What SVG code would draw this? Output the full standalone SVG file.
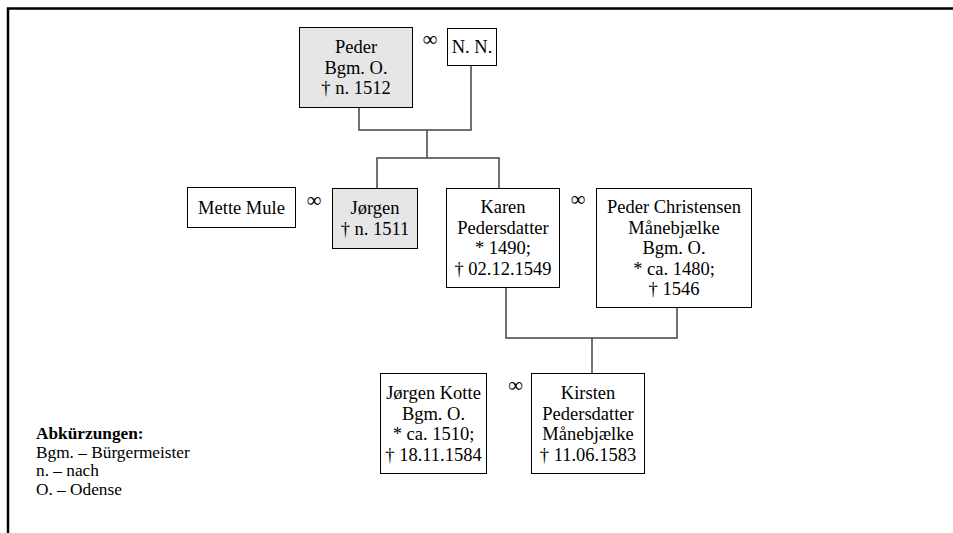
<svg xmlns="http://www.w3.org/2000/svg" width="953" height="533" viewBox="0 0 953 533">
<style>
text{font-family:"Liberation Serif","Times New Roman",serif;font-size:18.5px;fill:#000}
.c{text-anchor:middle}
.inf{font-size:21px;text-anchor:middle}
.box{fill:#fff;stroke:#000;stroke-width:1}
.g{fill:#e6e6e6}
.conn{fill:none;stroke:#444;stroke-width:1.5}
.leg{font-size:17.3px}
</style>
<rect width="953" height="533" fill="#fff"/>
<path d="M8,533 V8.5 H953" fill="none" stroke="#000" stroke-width="2.5"/>
<g id="connectors" class="conn">
<path d="M359,107 V130 H471 V65"/>
<path d="M427,130 V158"/>
<path d="M377,188 V158 H499 V188"/>
<path d="M506,287 V338 H677 V307"/>
<path d="M592,338 V373"/>
</g>
<g id="peder">
<rect class="box g" x="299.5" y="27.5" width="113" height="80"/>
<text class="c" x="356" y="53">Peder</text>
<text class="c" x="356" y="73.5">Bgm. O.</text>
<text class="c" x="356" y="94">† n. 1512</text>
</g>
<text class="inf" x="430" y="46">∞</text>
<g id="nn">
<rect class="box" x="447.5" y="28.5" width="49" height="37"/>
<text class="c" x="472" y="53">N. N.</text>
</g>
<g id="mette">
<rect class="box" x="187.5" y="187.5" width="108" height="40"/>
<text class="c" x="241.5" y="213.5">Mette Mule</text>
</g>
<text class="inf" x="314" y="207">∞</text>
<g id="jorgen">
<rect class="box g" x="332.5" y="188.5" width="85" height="60"/>
<text class="c" x="375" y="214">Jørgen</text>
<text class="c" x="375" y="235">† n. 1511</text>
</g>
<g id="karen">
<rect class="box" x="446.5" y="188.5" width="113" height="99"/>
<text class="c" x="503" y="213">Karen</text>
<text class="c" x="503" y="234">Pedersdatter</text>
<text class="c" x="503" y="254">* 1490;</text>
<text class="c" x="503" y="275">† 02.12.1549</text>
</g>
<text class="inf" x="578" y="206">∞</text>
<g id="pederchristensen">
<rect class="box" x="596.5" y="188.5" width="155" height="119"/>
<text class="c" x="674" y="213">Peder Christensen</text>
<text class="c" x="674" y="233.5">Månebjælke</text>
<text class="c" x="674" y="254">Bgm. O.</text>
<text class="c" x="674" y="274.5">* ca. 1480;</text>
<text class="c" x="674" y="295">† 1546</text>
</g>
<g id="jorgenkotte">
<rect class="box" x="380.5" y="373.5" width="106" height="100"/>
<text class="c" x="433.5" y="399">Jørgen Kotte</text>
<text class="c" x="433.5" y="419.5">Bgm. O.</text>
<text class="c" x="433.5" y="440">* ca. 1510;</text>
<text class="c" x="433.5" y="460.5">† 18.11.1584</text>
</g>
<text class="inf" x="515.5" y="392">∞</text>
<g id="kirsten">
<rect class="box" x="531.5" y="373.5" width="113" height="100"/>
<text class="c" x="588" y="399">Kirsten</text>
<text class="c" x="588" y="419.5">Pedersdatter</text>
<text class="c" x="588" y="440">Månebjælke</text>
<text class="c" x="588" y="460.5">† 11.06.1583</text>
</g>
<g id="legend">
<text class="leg" x="36" y="439" font-weight="bold">Abkürzungen:</text>
<text class="leg" x="36" y="457.5">Bgm. – Bürgermeister</text>
<text class="leg" x="36" y="476">n. – nach</text>
<text class="leg" x="36" y="494.5">O. – Odense</text>
</g>
</svg>
